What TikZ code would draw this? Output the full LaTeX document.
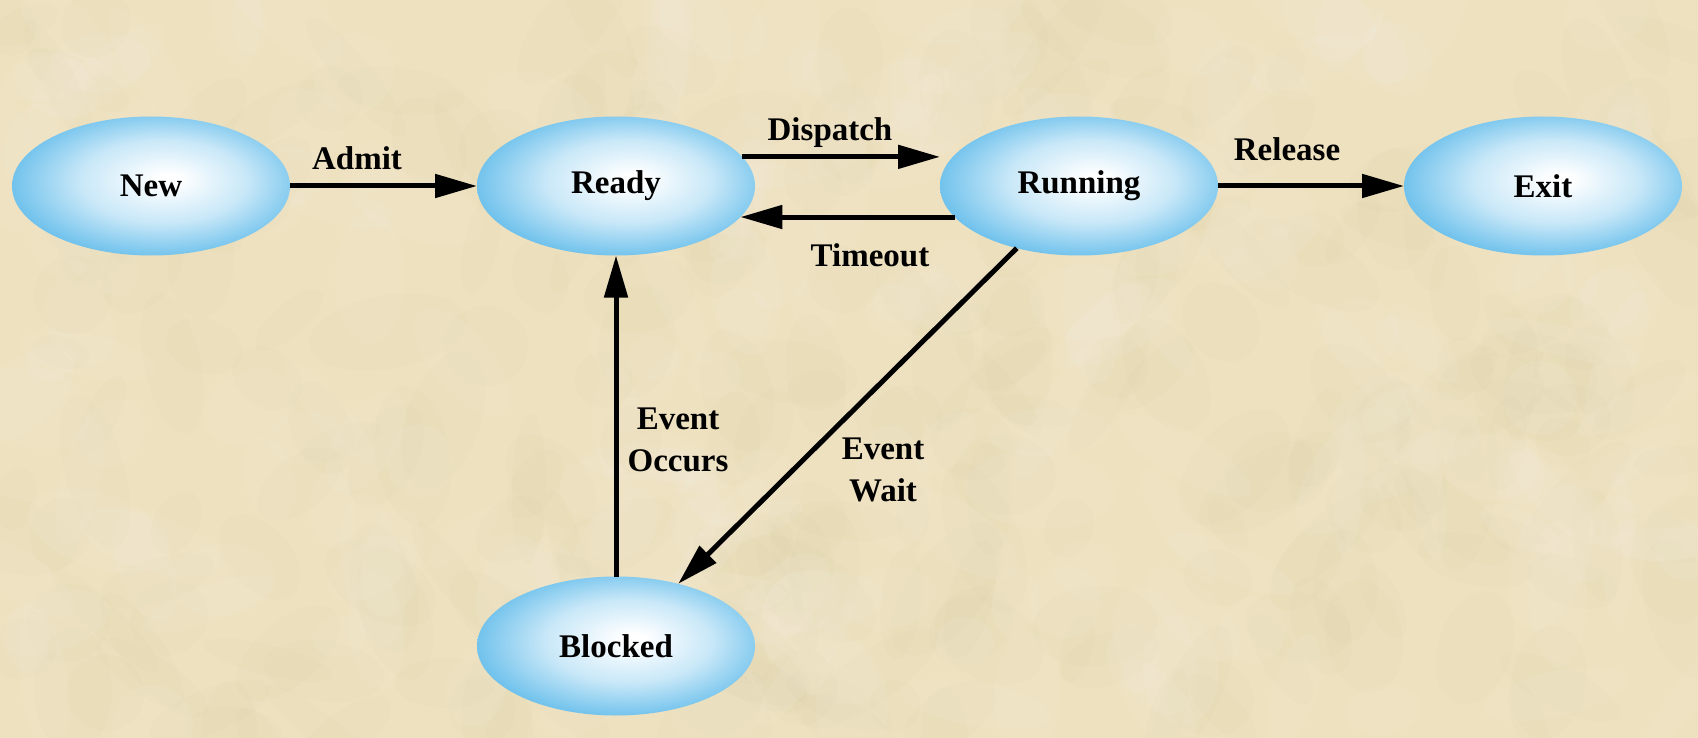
\documentclass[tikz,border=0pt]{standalone}
\usepackage{fontspec}
\setmainfont{Liberation Serif}
\usetikzlibrary{arrows.meta,shapes.geometric,calc}
\definecolor{bgc}{RGB}{237,225,192}
\definecolor{bgdark}{RGB}{205,185,140}
\definecolor{blueedge}{RGB}{110,193,236}
\pgfdeclareradialshading{bubble}{\pgfpoint{3.2bp}{2.5bp}}{%
  color(0bp)=(white);
  color(2bp)=(white);
  color(15bp)=(white!62!blueedge);
  color(27bp)=(blueedge);
  color(50bp)=(blueedge)}
\tikzset{
  state/.style={ellipse, shading=bubble, minimum width=278pt, minimum height=139pt,
    inner sep=0pt, outer sep=0pt, font=\bfseries\fontsize{33}{42}\selectfont},
  lbl/.style={font=\bfseries\fontsize{33}{42}\selectfont, inner sep=0pt, align=center},
  arr/.style={line width=5pt, -{Triangle[length=42pt,width=23pt]}}
}
\begin{document}
\begin{tikzpicture}[x=1pt,y=-1pt]
\fill[bgc] (0,0) rectangle (1698,738);
\pgfmathsetseed{11}
\begin{scope}
\clip (0,0) rectangle (1698,738);
\foreach \i in {1,...,260}{
  \pgfmathsetmacro\xx{random(0,1698)}
  \pgfmathsetmacro\yy{random(0,738)}
  \pgfmathsetmacro\rr{random(25,80)}
  \pgfmathsetmacro\ss{random(15,40)}
  \pgfmathsetmacro\aa{random(0,180)}
  \fill[bgdark, opacity=0.045, rotate around={\aa:(\xx,\yy)}] (\xx,\yy) ellipse ({\rr} and {\ss});
}
\foreach \i in {1,...,220}{
  \pgfmathsetmacro\xx{random(0,1698)}
  \pgfmathsetmacro\yy{random(0,738)}
  \pgfmathsetmacro\rr{random(25,80)}
  \pgfmathsetmacro\ss{random(15,40)}
  \pgfmathsetmacro\aa{random(0,180)}
  \fill[white, opacity=0.06, rotate around={\aa:(\xx,\yy)}] (\xx,\yy) ellipse ({\rr} and {\ss});
}
\end{scope}
\useasboundingbox (0,0) rectangle (1698,738);

\node[state] (new) at (151,186) {New};
\node[state] (ready) at (616,186) {Ready};
\node[state] (running) at (1079,186) {Running};
\node[state] (exit) at (1543,186) {Exit};
\node[state] (blocked) at (616,646) {Blocked};

\draw[arr] (new.east) -- (ready.west);
\draw[arr] (ready.13.5) -- (ready.13.5 -| running.west);
\draw[arr] (running.194.5) -- (ready.-14.5);
\draw[arr] (running.east) -- (exit.west);
\draw[arr] (running.225) -- (blocked.45);
\draw[arr] (blocked.north) -- (ready.south);

\node[lbl, anchor=base] (ladmit) at (357,170) {Admit};
\node[lbl, anchor=base] (ldispatch) at (830,141) {Dispatch};
\node[lbl, anchor=base] (ltimeout) at (870,267) {Timeout};
\node[lbl, anchor=base] (lrelease) at (1287,161) {Release};
\node[lbl] (loccurs) at (678,440) {Event\\Occurs};
\node[lbl] (lwait) at (883,470) {Event\\Wait};
\end{tikzpicture}
\end{document}
